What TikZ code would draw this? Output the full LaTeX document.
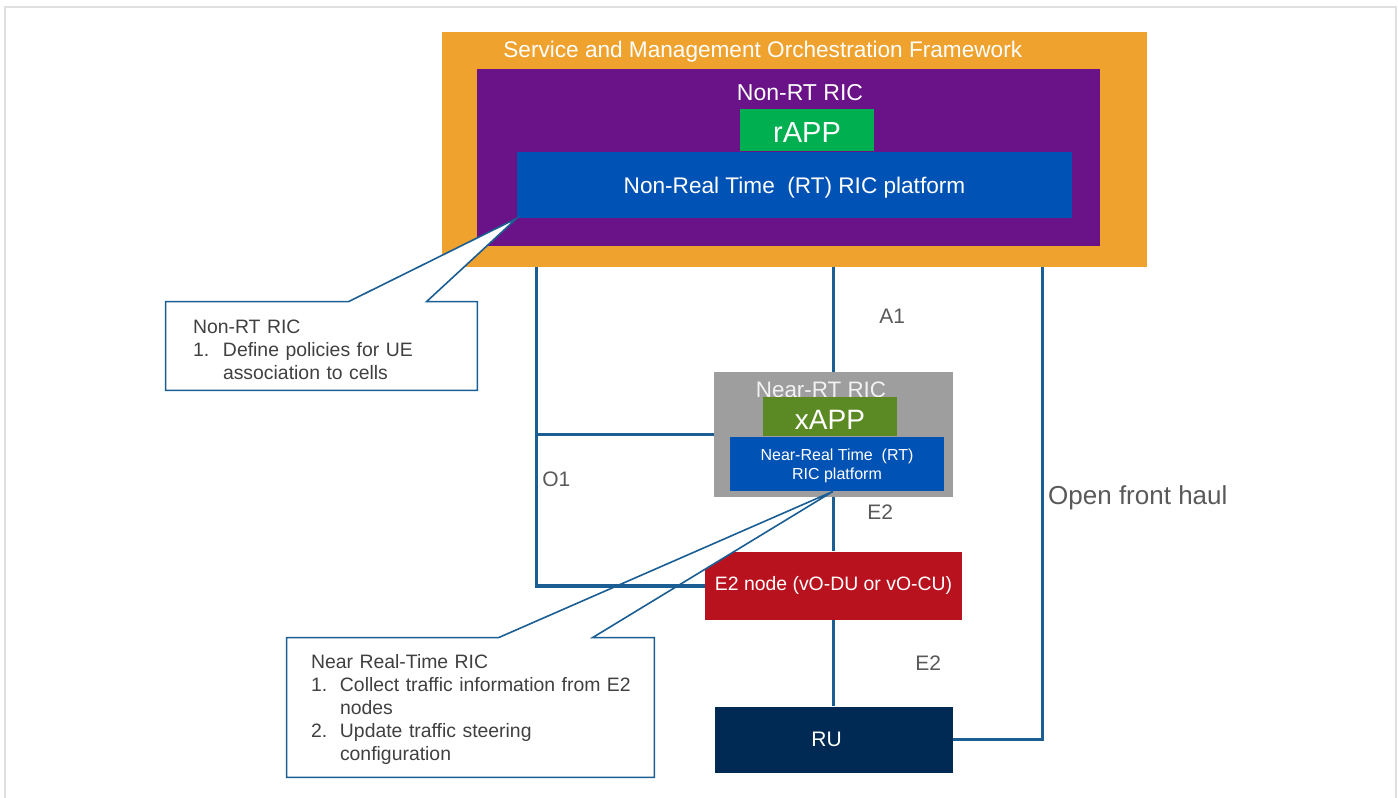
\documentclass[tikz,border=0pt]{standalone}
\usepackage{fontspec}
\setmainfont{Liberation Sans}
\usepackage{xcolor}
\usetikzlibrary{positioning, calc}

\definecolor{smoorange}{HTML}{F0A22E}
\definecolor{ricpurple}{HTML}{6A1287}
\definecolor{rappgreen}{HTML}{00B050}
\definecolor{platblue}{HTML}{0052B4}
\definecolor{neargray}{HTML}{9E9E9E}
\definecolor{xappgreen}{HTML}{5B8A24}
\definecolor{e2red}{HTML}{B8121E}
\definecolor{runavy}{HTML}{002A54}
\definecolor{linkblue}{HTML}{1A5E94}
\definecolor{lblgray}{HTML}{595959}
\definecolor{notegray}{HTML}{404040}

\begin{document}
\begin{tikzpicture}[
  x=0.5pt, y=-0.5pt,
  block/.style={rectangle, inner sep=0pt, text=white, align=center},
  boxlabel/.style={text=white, inner sep=0pt, font=\fontsize{11.5}{13}\selectfont},
  link/.style={draw=linkblue, line width=1.8pt},
  linklabel/.style={text=lblgray, font=\fontsize{10.5}{12}\selectfont, anchor=west, inner sep=0pt},
  notebox/.style={rectangle, inner sep=0pt},
  notetext/.style={text=notegray, align=left, inner sep=0pt, anchor=west, text width=180pt, font=\fontsize{9.7}{11.5}\selectfont},
  noteline/.style={draw=linkblue, fill=white, line width=0.8pt, line join=miter}
]
\useasboundingbox (0,0) rectangle (1398,798);
\draw[black!12, line width=1pt] (5,7) rectangle (1396,801);

% SMO and Non-RT RIC
\node[block, fill=smoorange, minimum width=352.5pt, minimum height=117.5pt] (smo) at (794.5,149.5) {};
\node[boxlabel, anchor=west, font=\fontsize{11.3}{13}\selectfont] (smolabel) at (503,52) {Service and Management Orchestration Framework};
\node[block, fill=ricpurple, minimum width=311.5pt, minimum height=88.5pt] (nonrt) at (788.5,157.5) {};
\node[boxlabel] (nonrtlabel) at (800,93) {Non-RT RIC};
\node[block, fill=platblue, minimum width=277.5pt, minimum height=33pt, text height=8.6pt, text depth=0pt, font=\fontsize{11.3}{13}\selectfont] (nonrtplat) at (794.5,185) {Non-Real Time\ \ (RT) RIC platform};
\node[block, fill=rappgreen, minimum width=67pt, minimum height=21pt, text height=12.2pt, text depth=0pt, font=\fontsize{14.5}{16}\selectfont, above=0pt of nonrtplat, xshift=6.25pt] (rapp) {rAPP};

% Near-RT RIC
\node[block, fill=neargray, minimum width=119.5pt, minimum height=62.5pt] (nearric) at (833.5,434.5) {};
\node[boxlabel, text=white!95!black, font=\fontsize{11.2}{13}\selectfont] (nearlabel) at (821,390) {Near-RT RIC};
\node[block, fill=platblue, minimum width=107pt, minimum height=27pt, text depth=-1pt, font=\fontsize{8}{9.5}\selectfont] (nearplat) at (837,464) {Near-Real Time\ \ (RT)\\RIC platform};
\node[block, fill=xappgreen, minimum width=67pt, minimum height=19.5pt, text height=12.5pt, text depth=0pt, font=\fontsize{14}{16}\selectfont, above=0pt of nearplat, xshift=-3.5pt] (xapp) {xAPP};

% E2 node and RU
\node[block, fill=e2red, minimum width=128.5pt, minimum height=34pt, font=\fontsize{9.7}{12}\selectfont, below=27pt of nearric] (e2node) {E2 node (vO-DU or vO-CU)};
\node[block, fill=runavy, minimum width=119pt, minimum height=33pt, font=\fontsize{10.5}{12}\selectfont, below=43pt of e2node] (ru) {RU\hspace*{7pt}};

% Callouts
\node[notebox, minimum width=155.5pt, minimum height=44pt] (note1) at (321.5,346) {};
\draw[noteline] (note1.north west) -- ([xshift=91.5pt]note1.north west) -- (nonrtplat.south west)
  -- ([xshift=130.5pt]note1.north west) -- (note1.north east) -- (note1.south east) -- (note1.south west) -- cycle;
\node[notetext, yshift=-2pt] (note1text) at ([xshift=13.5pt]note1.west) {Non-RT RIC\\\makebox[15pt][l]{1.}Define policies for UE\\\hspace*{15pt}association to cells};

\node[notebox, minimum width=183.5pt, minimum height=69.5pt] (note2) at (470.5,707.5) {};
\draw[noteline] (note2.north west) -- ([xshift=106pt]note2.north west) -- ([xshift=-2pt]nearplat.south)
  -- ([xshift=153pt]note2.north west) -- (note2.north east) -- (note2.south east) -- (note2.south west) -- cycle;
\node[notetext, yshift=-1pt] (note2text) at ([xshift=12pt]note2.west) {Near Real-Time RIC\\\makebox[14.5pt][l]{1.}Collect traffic information from E2\\\hspace*{14.5pt}nodes\\\makebox[14.5pt][l]{2.}Update traffic steering\\\hspace*{14.5pt}configuration};

% Interfaces
\coordinate (o1top) at ([xshift=47.5pt]smo.south west);
\coordinate (ofhtop) at ([xshift=-52.5pt]smo.south east);
\draw[link] (o1top) |- node[linklabel, pos=0.332, xshift=2pt] (o1label) {O1} (e2node.west);
\draw[link] (o1top |- nearric.west) -- (nearric.west);
\draw[link] (smo.south -| nearric.north) -- node[linklabel, xshift=22pt, yshift=1.5pt] (a1label) {A1} (nearric.north);
\draw[link] (nearric.south) -- node[linklabel, xshift=16pt, yshift=6pt] (e2alabel) {E2} (e2node.north);
\draw[link] (e2node.south) -- node[linklabel, xshift=40pt] (e2blabel) {E2} (ru.north);
\draw[link] (ofhtop) |- node[linklabel, pos=0.244, xshift=2pt, font=\fontsize{13}{15}\selectfont] (ofhlabel) {Open front haul} (ru.east);

\end{tikzpicture}
\end{document}
